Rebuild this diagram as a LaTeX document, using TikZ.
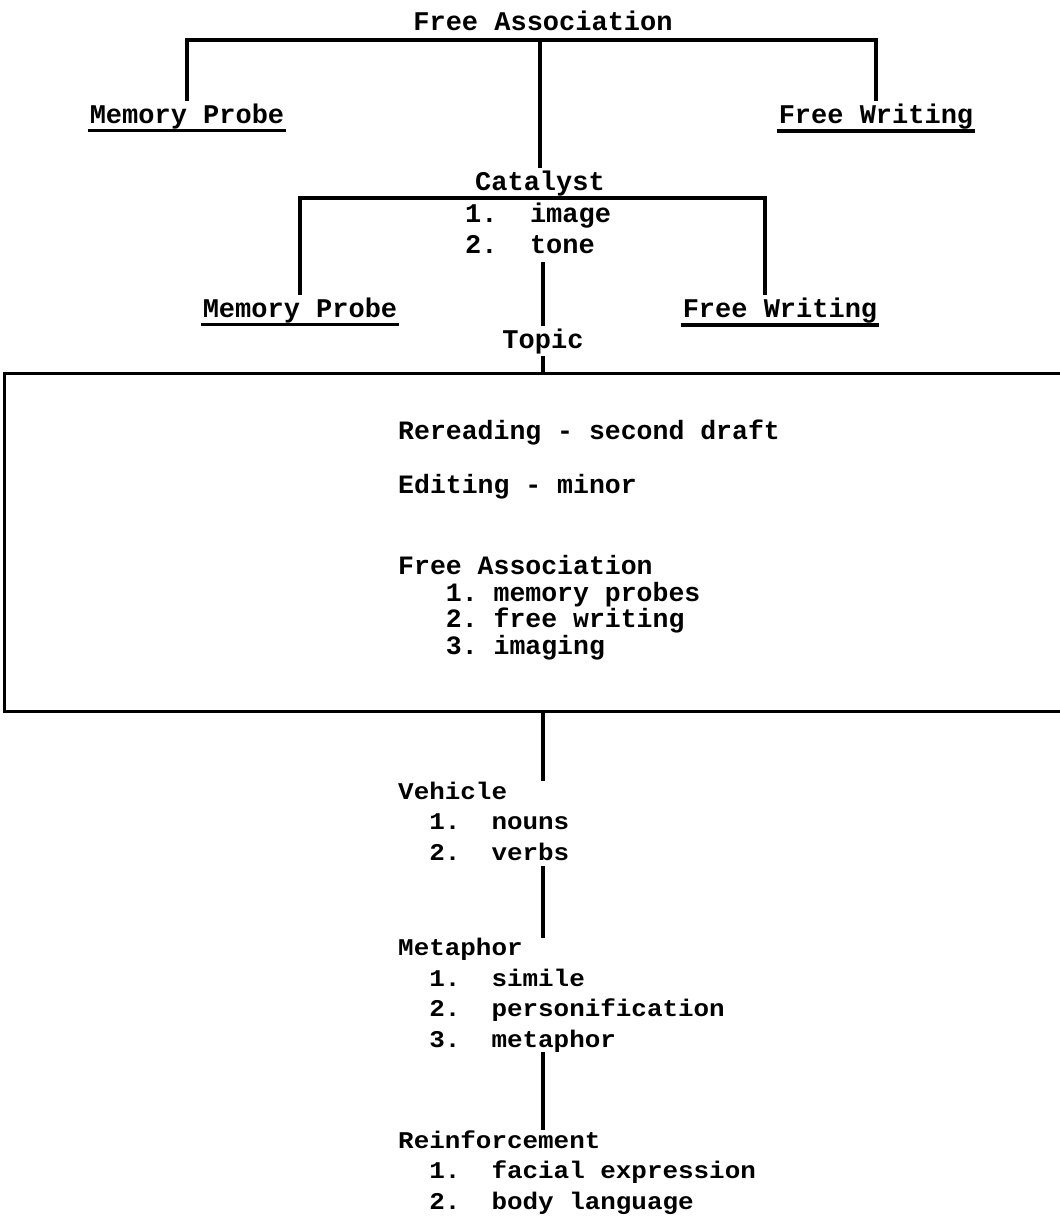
\documentclass[tikz,border=0pt]{standalone}
\usepackage{fontspec}
\setmonofont{Liberation Mono}
\newfontfamily\lowfont[FakeStretch=1.08]{Liberation Mono}
\usetikzlibrary{positioning}

\tikzset{
  every node/.style={font=\ttfamily\bfseries\fontsize{27}{31}\selectfont, inner sep=2pt},
  toplbl/.style={anchor=base},
  boxtxt/.style={font=\ttfamily\bfseries\fontsize{26.5}{26.5}\selectfont, anchor=base west, inner sep=0pt},
  blk/.style={font=\lowfont\bfseries\fontsize{24}{30.5}\selectfont, align=left, anchor=base west, inner sep=0pt},
  link/.style={line width=3.2pt},
}

\begin{document}
\begin{tikzpicture}[x=1pt,y=-1pt]
\useasboundingbox (0,0) rectangle (1060,1221);

\node[toplbl] (fa) at (543,30) {Free Association};
\coordinate (bar1) at (540,40);
\node[toplbl] (mp1) at (187,123) {Memory Probe};
\node[toplbl] (fw1) at (876,123) {Free Writing};

\node[toplbl] (cat) at (540,190) {Catalyst};
\coordinate (bar2) at (540,198);
\node[toplbl, anchor=base west, align=left, inner sep=0pt] (catlist) at (465,253)
  {1.\phantom{00}image\\2.\phantom{00}tone};
\node[toplbl] (mp2) at (300,317) {Memory Probe};
\node[toplbl] (fw2) at (780,317) {Free Writing};
\node[toplbl] (topic) at (543,348) {Topic};

\draw[link] (mp1.north) |- (bar1) -| (fw1.north);
\draw[link] (bar1) -- (cat.north -| bar1);
\draw[link] (mp2.north) |- (bar2) -| ([xshift=-15]fw2.north);
\draw[link] ([yshift=-9]catlist.south -| topic) -- (topic.north);
\foreach \n in {mp1,fw1,mp2,fw2}
  \draw[link] (\n.south west) -- (\n.south east);

% revision box
\node[draw, line width=3.2pt, minimum width=1100pt, minimum height=338pt,
  anchor=north west, inner sep=0pt] (rbox) at (3,372) {};
\draw[link] (topic.south) -- (topic.south |- rbox.north);

\node[boxtxt] (reread) at (398,439) {Rereading - second draft};
\node[boxtxt] (edit) at (398,493) {Editing - minor};
\node[boxtxt, align=left] (assoc) at (398,654) {Free Association\\
\phantom{000}1.\phantom{0}memory probes\\
\phantom{000}2.\phantom{0}free writing\\
\phantom{000}3.\phantom{0}imaging};

\node[blk] (veh) at (398,860) {Vehicle\\
\phantom{00}1.\phantom{00}nouns\\
\phantom{00}2.\phantom{00}verbs};
\node[blk] (met) at (398,1047) {Metaphor\\
\phantom{00}1.\phantom{00}simile\\
\phantom{00}2.\phantom{00}personification\\
\phantom{00}3.\phantom{00}metaphor};
\node[blk] (reinf) at (398,1209) {Reinforcement\\
\phantom{00}1.\phantom{00}facial expression\\
\phantom{00}2.\phantom{00}body language};

\draw[link] (rbox.south -| topic) -- (veh.north -| topic);
\draw[link] ([yshift=-6]veh.south -| topic) -- (met.north -| topic);
\draw[link] (met.south -| topic) -- (reinf.north -| topic);

\end{tikzpicture}
\end{document}
